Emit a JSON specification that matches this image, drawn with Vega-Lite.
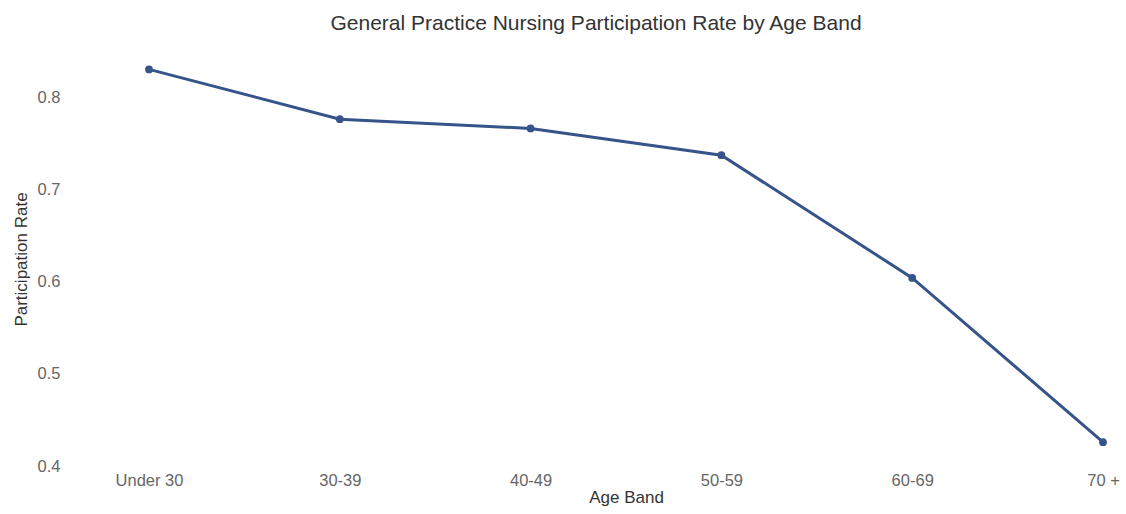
{
  "$schema": "https://vega.github.io/schema/vega-lite/v6.json",
  "autosize": {"type": "none"},
  "padding": {"left": 149, "top": 50, "right": 23, "bottom": 46},
  "width": 954,
  "height": 418,
  "background": "white",
  "title": {
    "text": "General Practice Nursing Participation Rate by Age Band",
    "font": "Liberation Sans",
    "fontSize": 21,
    "fontWeight": "normal",
    "color": "#333333",
    "anchor": "middle",
    "dx": -30,
    "offset": 16
  },
  "config": {"view": {"stroke": null}},
  "data": {
    "values": [
      {"age_band": "Under 30", "rate": 0.830},
      {"age_band": "30-39", "rate": 0.776},
      {"age_band": "40-49", "rate": 0.766},
      {"age_band": "50-59", "rate": 0.737},
      {"age_band": "60-69", "rate": 0.604},
      {"age_band": "70 +", "rate": 0.426}
    ]
  },
  "mark": {"type": "line", "color": "#36548a", "strokeWidth": 3, "point": {"filled": true, "size": 60, "color": "#36548a"}},
  "encoding": {
    "x": {
      "field": "age_band",
      "type": "ordinal",
      "sort": null,
      "scale": {"type": "point", "padding": 0},
      "axis": {
        "title": "Age Band",
        "labelAngle": 0,
        "domain": false,
        "ticks": false,
        "grid": false,
        "labelFont": "Liberation Sans",
        "labelFontSize": 16.5,
        "labelColor": "#666666",
        "labelPadding": 4,
        "titleFont": "Liberation Sans",
        "titleFontSize": 17,
        "titleFontWeight": "normal",
        "titleColor": "#333333",
        "titlePadding": 1
      }
    },
    "y": {
      "field": "rate",
      "type": "quantitative",
      "scale": {"domain": [0.398, 0.851], "nice": false, "zero": false},
      "axis": {
        "title": "Participation Rate",
        "values": [0.4, 0.5, 0.6, 0.7, 0.8],
        "format": ".1f",
        "domain": false,
        "ticks": false,
        "grid": false,
        "offset": 89,
        "labelPadding": 0,
        "labelFont": "Liberation Sans",
        "labelFontSize": 16.5,
        "labelColor": "#666666",
        "titleFont": "Liberation Sans",
        "titleFontSize": 17,
        "titleFontWeight": "normal",
        "titleColor": "#333333",
        "titlePadding": 7
      }
    }
  }
}
